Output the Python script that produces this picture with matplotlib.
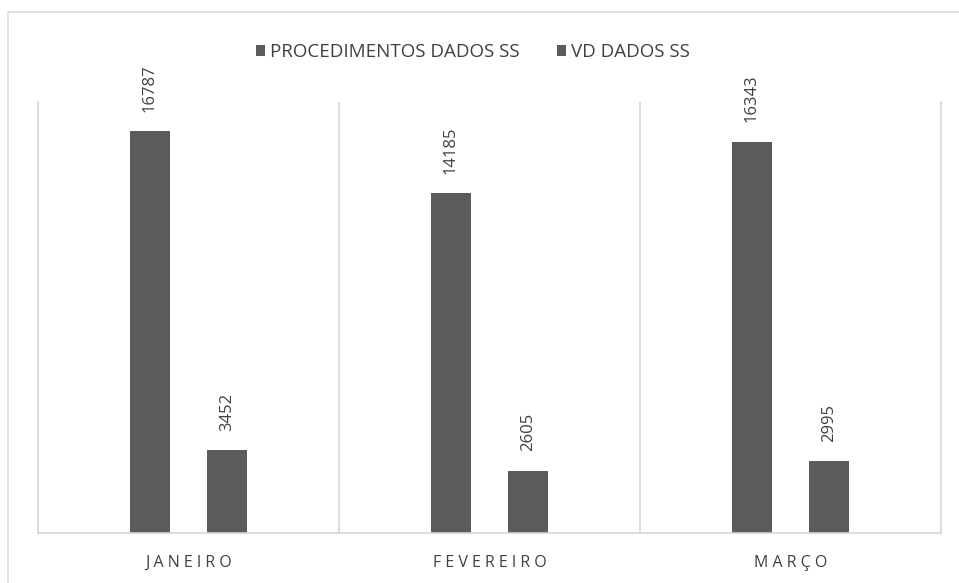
import matplotlib

matplotlib.use("Agg")
import matplotlib.pyplot as plt
import numpy as np

months = ["JANEIRO", "FEVEREIRO", "MARÇO"]
procedimentos = [16787, 14185, 16343]
vd = [3452, 2605, 2995]
series_names = ["PROCEDIMENTOS DADOS SS", "VD DADOS SS"]

BAR = "#5b5b5b"
GRID = "#d4d4d4"
TXT = "#404040"

plt.rcParams["font.family"] = ["Open Sans", "DejaVu Sans"]

fig = plt.figure(figsize=(9.59, 5.83), dpi=100)
ax = fig.add_axes([0.0396, 0.0858, 0.9416, 0.7393])

x = np.arange(len(months))
w = 0.133
off = 0.128
b1 = ax.bar(x - off, procedimentos, w, color=BAR, label=series_names[0])
b2 = ax.bar(x + off, vd, w, color=BAR, label=series_names[1])

for bars in (b1, b2):
    for r in bars:
        ax.annotate(f"{int(r.get_height())}", (r.get_x() + r.get_width() / 2, r.get_height()),
                    xytext=(0, 14), textcoords="offset points", rotation=90,
                    ha="center", va="bottom", fontsize=12, color=TXT)

ax.set_xlim(-0.5, 2.5)
ax.set_ylim(0, 18000)
ax.set_yticks([])
ax.set_xticks(x)
ax.set_xticklabels([" ".join(m) for m in months], fontsize=11.5, color=TXT)
ax.tick_params(axis="x", length=0, pad=16)
for s in ("left", "right", "bottom"):
    ax.spines[s].set_color(GRID)
    ax.spines[s].set_linewidth(1.2)
ax.spines["top"].set_visible(False)
for xv in (0.5, 1.5):
    ax.axvline(xv, color=GRID, lw=1.2)

fig.legend(handles=[b1, b2], loc="center", bbox_to_anchor=(0.493, 0.911), ncol=2,
           frameon=False, fontsize=13.5, handlelength=0.5, handleheight=0.5,
           handletextpad=0.25, columnspacing=2.0, labelcolor=TXT)

# faint outer frame of the original chart box
fig.add_artist(plt.Line2D([8 / 959, 8 / 959], [0, 1 - 12 / 583], transform=fig.transFigure, color="#dddddd", lw=1.2))
fig.add_artist(plt.Line2D([8 / 959, 1], [1 - 12 / 583, 1 - 12 / 583], transform=fig.transFigure, color="#dddddd", lw=1.2))

fig.savefig("out.png", dpi=100)
